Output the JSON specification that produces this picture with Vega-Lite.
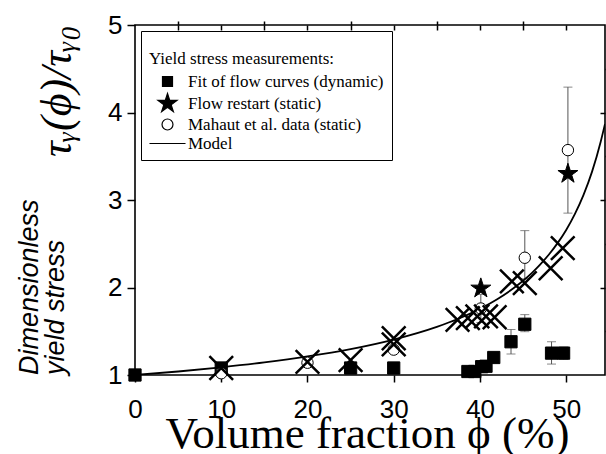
{
  "$schema": "https://vega.github.io/schema/vega-lite/v6.json",
  "width": 470,
  "height": 350,
  "autosize": {"type": "none"},
  "padding": {"left": 135, "top": 25, "right": 1, "bottom": 79},
  "background": "white",
  "title": {
    "text": ["Dimensionless", "yield stress"],
    "orient": "left",
    "anchor": "start",
    "frame": "group",
    "font": "Liberation Sans",
    "fontStyle": "italic",
    "fontWeight": "normal",
    "fontSize": 27,
    "lineHeight": 26,
    "color": "black",
    "offset": -34
  },
  "datasets": {
    "model": [
      {"phi": 0, "tau": 1.0, "series": "Model"},
      {"phi": 5, "tau": 1.04, "series": "Model"},
      {"phi": 10, "tau": 1.088, "series": "Model"},
      {"phi": 15, "tau": 1.144, "series": "Model"},
      {"phi": 20, "tau": 1.212, "series": "Model"},
      {"phi": 25, "tau": 1.296, "series": "Model"},
      {"phi": 30, "tau": 1.405, "series": "Model"},
      {"phi": 35, "tau": 1.55, "series": "Model"},
      {"phi": 37.5, "tau": 1.643, "series": "Model"},
      {"phi": 40, "tau": 1.756, "series": "Model"},
      {"phi": 42, "tau": 1.866, "series": "Model"},
      {"phi": 44, "tau": 1.999, "series": "Model"},
      {"phi": 45, "tau": 2.077, "series": "Model"},
      {"phi": 46, "tau": 2.164, "series": "Model"},
      {"phi": 47, "tau": 2.264, "series": "Model"},
      {"phi": 48, "tau": 2.377, "series": "Model"},
      {"phi": 49, "tau": 2.507, "series": "Model"},
      {"phi": 50, "tau": 2.658, "series": "Model"},
      {"phi": 51, "tau": 2.839, "series": "Model"},
      {"phi": 52, "tau": 3.056, "series": "Model"},
      {"phi": 53, "tau": 3.324, "series": "Model"},
      {"phi": 54, "tau": 3.666, "series": "Model"},
      {"phi": 54.5, "tau": 3.87, "series": "Model"}
    ],
    "squares": [
      {"phi": 0, "tau": 1.0, "series": "Fit of flow curves (dynamic)"},
      {"phi": 10, "tau": 1.08, "series": "Fit of flow curves (dynamic)"},
      {"phi": 25, "tau": 1.08, "series": "Fit of flow curves (dynamic)"},
      {"phi": 30, "tau": 1.08, "series": "Fit of flow curves (dynamic)"},
      {"phi": 38.6, "tau": 1.04, "series": "Fit of flow curves (dynamic)"},
      {"phi": 39.4, "tau": 1.04, "series": "Fit of flow curves (dynamic)"},
      {"phi": 40.2, "tau": 1.095, "series": "Fit of flow curves (dynamic)"},
      {"phi": 40.7, "tau": 1.1, "series": "Fit of flow curves (dynamic)"},
      {"phi": 41.6, "tau": 1.2, "series": "Fit of flow curves (dynamic)"},
      {"phi": 43.6, "tau": 1.38, "series": "Fit of flow curves (dynamic)"},
      {"phi": 45.2, "tau": 1.58, "series": "Fit of flow curves (dynamic)"},
      {"phi": 48.3, "tau": 1.25, "series": "Fit of flow curves (dynamic)"},
      {"phi": 49.7, "tau": 1.25, "series": "Fit of flow curves (dynamic)"}
    ],
    "stars": [
      {"phi": 40.1, "tau": 1.99, "series": "Flow restart (static)"},
      {"phi": 50.2, "tau": 3.3, "series": "Flow restart (static)"}
    ],
    "circles": [
      {"phi": 10, "tau": 1.02, "series": "Mahaut et al. data (static)"},
      {"phi": 20, "tau": 1.14, "series": "Mahaut et al. data (static)"},
      {"phi": 30, "tau": 1.29, "series": "Mahaut et al. data (static)"},
      {"phi": 40.1, "tau": 1.76, "series": "Mahaut et al. data (static)"},
      {"phi": 45.2, "tau": 2.34, "series": "Mahaut et al. data (static)"},
      {"phi": 50.2, "tau": 3.57, "series": "Mahaut et al. data (static)"}
    ],
    "crosses": [
      {"phi": 10, "tau": 1.08},
      {"phi": 20, "tau": 1.15},
      {"phi": 25, "tau": 1.17},
      {"phi": 30, "tau": 1.42},
      {"phi": 30, "tau": 1.35},
      {"phi": 37.4, "tau": 1.63},
      {"phi": 38.6, "tau": 1.65},
      {"phi": 39.7, "tau": 1.67},
      {"phi": 40.7, "tau": 1.67},
      {"phi": 41.7, "tau": 1.66},
      {"phi": 43.7, "tau": 2.07},
      {"phi": 45.2, "tau": 2.05},
      {"phi": 48.2, "tau": 2.22},
      {"phi": 49.6, "tau": 2.45}
    ],
    "errors": [
      {"phi": 43.6, "lo": 1.24, "hi": 1.52},
      {"phi": 45.2, "lo": 1.495, "hi": 1.69},
      {"phi": 48.3, "lo": 1.125, "hi": 1.38},
      {"phi": 49.7, "lo": 1.18, "hi": 1.32},
      {"phi": 50.2, "lo": 2.85, "hi": 4.29},
      {"phi": 45.2, "lo": 2.1, "hi": 2.65},
      {"phi": 40.1, "lo": 1.6, "hi": 1.92}
    ]
  },
  "layer": [
    {
      "data": {"name": "errors"},
      "mark": {"type": "errorbar", "ticks": {"size": 9, "color": "#555555", "thickness": 1}, "rule": {"color": "#555555", "strokeWidth": 1}},
      "encoding": {
        "x": {"field": "phi", "type": "quantitative", "axis": null},
        "y": {"field": "lo", "type": "quantitative", "axis": null},
        "y2": {"field": "hi"}
      }
    },
    {
      "data": {"name": "model"},
      "mark": {"type": "line", "interpolate": "monotone", "strokeWidth": 1.8, "clip": true},
      "encoding": {
        "x": {
          "field": "phi", "type": "quantitative",
          "scale": {"domain": [0, 54.5], "nice": false, "zero": false},
          "axis": {"values": [0, 10, 20, 30, 40, 50], "tickSize": 7, "labelPadding": 14, "labelFlush": false, "title": "Volume fraction ϕ (%)", "titleFont": "Liberation Serif", "titleFontSize": 45, "titleFontWeight": "normal", "titlePadding": -11, "titleX": 232}
        },
        "y": {
          "field": "tau", "type": "quantitative",
          "scale": {"domain": [1, 5], "nice": false, "zero": false},
          "axis": {"values": [1, 2, 3, 4, 5], "tickSize": 8, "labelPadding": 5, "labelFlush": false, "title": "τᵧ(ϕ)/τᵧ₀", "titleFont": "Liberation Serif", "titleFontStyle": "italic", "titleFontSize": 44, "titleFontWeight": "normal", "titleAnchor": "end", "titlePadding": 28}
        },
        "stroke": {"field": "series", "type": "nominal", "title": ["", "Yield stress measurements:                       "],
          "scale": {"domain": ["Fit of flow curves (dynamic)", "Flow restart (static)", "Mahaut et al. data (static)", "Model"], "range": ["black", "black", "black", "black"]},
          "legend": {"encode": {"symbols": {"update": {"size": {"signal": "datum.value === 'Flow restart (static)' ? 400 : datum.value === 'Model' ? 1300 : datum.value === 'Mahaut et al. data (static)' ? 120 : 100"}}}}}
        }
      }
    },
    {
      "data": {"name": "squares"},
      "mark": {"type": "point", "size": 150, "opacity": 1, "strokeWidth": 1},
      "encoding": {
        "x": {"field": "phi", "type": "quantitative", "axis": {"values": [5, 15, 25, 35, 45], "tickSize": 4, "labels": false, "title": null}},
        "y": {"field": "tau", "type": "quantitative", "axis": {"values": [1.5, 2.5, 3.5, 4.5], "tickSize": 4, "labels": false, "title": null}},
        "shape": {"field": "series", "type": "nominal", "title": ["", "Yield stress measurements:                       "],
          "scale": {"domain": ["Fit of flow curves (dynamic)", "Flow restart (static)", "Mahaut et al. data (static)", "Model"], "range": ["square", "M0,-1L0.225,-0.309L0.951,-0.309L0.363,0.118L0.588,0.809L0,0.382L-0.588,0.809L-0.363,0.118L-0.951,-0.309L-0.225,-0.309Z", "circle", "M-1,0H1"]},
          "legend": {"encode": {"symbols": {"update": {"size": {"signal": "datum.value === 'Flow restart (static)' ? 400 : datum.value === 'Model' ? 1300 : datum.value === 'Mahaut et al. data (static)' ? 120 : 100"}}}}}
        },
        "fill": {"field": "series", "type": "nominal", "title": ["", "Yield stress measurements:                       "], "scale": {"domain": ["Fit of flow curves (dynamic)", "Flow restart (static)", "Mahaut et al. data (static)", "Model"], "range": ["black", "black", "white", "transparent"]},
          "legend": {"encode": {"symbols": {"update": {"size": {"signal": "datum.value === 'Flow restart (static)' ? 400 : datum.value === 'Model' ? 1300 : datum.value === 'Mahaut et al. data (static)' ? 120 : 100"}}}}}},
        "stroke": {"field": "series", "type": "nominal", "title": ["", "Yield stress measurements:                       "]}
      }
    },
    {
      "data": {"name": "circles"},
      "mark": {"type": "point", "size": 130, "opacity": 1, "strokeWidth": 1},
      "encoding": {
        "x": {"field": "phi", "type": "quantitative", "axis": null},
        "y": {"field": "tau", "type": "quantitative", "axis": null},
        "shape": {"field": "series", "type": "nominal", "title": ["", "Yield stress measurements:                       "]},
        "fill": {"field": "series", "type": "nominal", "title": ["", "Yield stress measurements:                       "]},
        "stroke": {"field": "series", "type": "nominal", "title": ["", "Yield stress measurements:                       "]}
      }
    },
    {
      "data": {"name": "stars"},
      "mark": {"type": "point", "size": 440, "opacity": 1, "strokeWidth": 1},
      "encoding": {
        "x": {"field": "phi", "type": "quantitative", "axis": {"orient": "top", "values": [5, 10, 15, 20, 25, 30, 35, 40, 45, 50], "tickSize": -5, "labels": false, "title": null}},
        "y": {"field": "tau", "type": "quantitative", "axis": {"orient": "right", "values": [2, 3, 4], "tickSize": -5, "labels": false, "title": null}},
        "shape": {"field": "series", "type": "nominal", "title": ["", "Yield stress measurements:                       "]},
        "fill": {"field": "series", "type": "nominal", "title": ["", "Yield stress measurements:                       "]},
        "stroke": {"field": "series", "type": "nominal", "title": ["", "Yield stress measurements:                       "]}
      }
    },
    {
      "data": {"name": "crosses"},
      "mark": {"type": "point", "shape": "M-1,-1L1,1M-1,1L1,-1", "size": 560, "opacity": 1, "filled": false, "stroke": "black", "strokeWidth": 2.5},
      "encoding": {
        "x": {"field": "phi", "type": "quantitative", "axis": null},
        "y": {"field": "tau", "type": "quantitative", "axis": null}
      }
    }
  ],
  "resolve": {"axis": {"x": "independent", "y": "independent"}},
  "config": {
    "view": {"stroke": "black", "strokeWidth": 1.6},
    "axis": {
      "domain": false, "grid": false,
      "labelFont": "Liberation Sans", "labelFontSize": 26, "labelColor": "black",
      "tickColor": "black", "tickWidth": 1.5, "titleColor": "black"
    },
    "legend": {
      "orient": "top-left", "offset": 6, "padding": 8,
      "strokeColor": "black", "strokeWidth": 1, "fillColor": "white",
      "titleFont": "Liberation Serif", "titleFontSize": 17, "titleFontWeight": "normal", "titleColor": "black", "titleLimit": 500,
      "labelFont": "Liberation Serif", "labelFontSize": 17, "labelColor": "black", "labelLimit": 400,
      "symbolSize": 100, "symbolStrokeWidth": 1.2, "symbolOffset": 10, "labelOffset": 12,
      "rowPadding": 1, "titlePadding": 5, "titleLineHeight": 12
    }
  }
}
